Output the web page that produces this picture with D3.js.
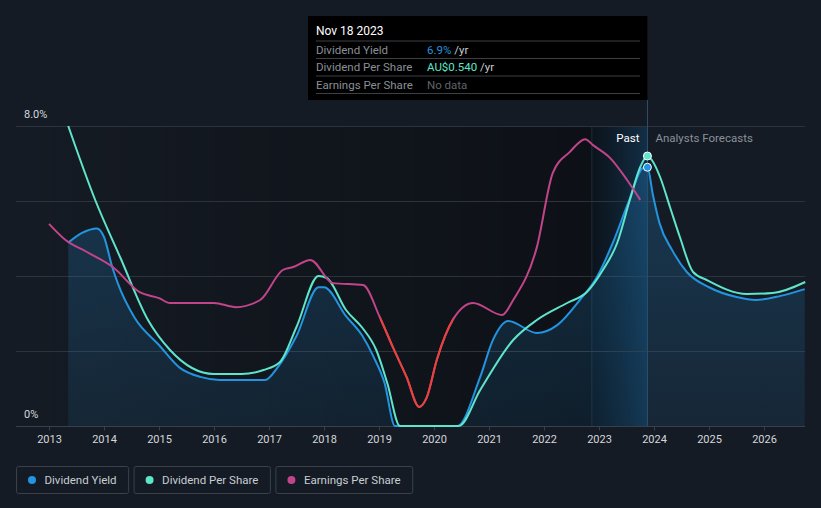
<!DOCTYPE html>
<html>
<head>
<meta charset="utf-8">
<script src="https://cdn.jsdelivr.net/npm/d3@7"></script>
<style>
  html, body { margin: 0; padding: 0; background: #151b24; }
  svg { display: block; font-family: Roboto, "Noto Sans", sans-serif; }
</style>
</head>
<body>
<script>
// dividend yield, % (decimal year -> value)
const yieldDates = [2013.35, 2013.6, 2013.87, 2014.0, 2014.15, 2014.25, 2014.56, 2015.0, 2015.38, 2015.75, 2016.1, 2016.93,
  2017.15, 2017.5, 2017.9, 2018.0, 2018.4, 2018.7, 2018.9, 2019.1, 2019.29, 2020.42, 2020.84, 2021.07, 2021.35,
  2021.87, 2022.24, 2022.65, 2022.96, 2023.25, 2023.53, 2023.8, 2023.88,
  2023.98, 2024.1, 2024.33, 2024.6, 2025.0, 2025.5, 2025.85, 2026.3, 2026.74];
const yieldValues = [4.89, 5.15, 5.27, 5.04, 4.24, 3.81, 2.88, 2.16, 1.55, 1.31, 1.23, 1.23,
  1.55, 2.4, 3.7, 3.7, 2.93, 2.4, 1.85, 1.15, 0, 0, 1.31, 2.29, 2.8,
  2.48, 2.69, 3.36, 3.97, 4.88, 5.95, 6.88, 6.9,
  6.16, 5.41, 4.69, 4.1, 3.7, 3.44, 3.36, 3.47, 3.65];

// dividend per share, AU$
const dpsDates = [2013.35, 2013.84, 2014.3, 2014.8, 2015.2, 2015.6, 2016.0, 2016.5, 2016.9, 2017.2, 2017.5, 2017.9,
  2018.05, 2018.4, 2018.7, 2018.95, 2019.15, 2019.38, 2020.45, 2020.84, 2021.44, 2021.87, 2022.42, 2022.78,
  2023.07, 2023.33, 2023.56, 2023.75, 2023.88,
  2023.96, 2024.11, 2024.29, 2024.47, 2024.71, 2024.96, 2025.69, 2026.16, 2026.75];
const dpsValues = [0.600, 0.452, 0.336, 0.212, 0.152, 0.116, 0.104, 0.104, 0.112, 0.128, 0.198, 0.300,
  0.296, 0.232, 0.196, 0.152, 0.086, 0, 0, 0.072, 0.172, 0.212, 0.246, 0.268,
  0.312, 0.366, 0.452, 0.518, 0.540,
  0.532, 0.498, 0.438, 0.378, 0.308, 0.292, 0.264, 0.266, 0.288];

// earnings per share (relative index, drawn on the % scale)
const epsDates = [2013.0, 2013.3, 2013.69, 2014.16, 2014.65, 2015.0, 2015.2, 2015.56, 2016.0, 2016.4, 2016.84,
  2017.25, 2017.44, 2017.75, 2018.16, 2018.71, 2019.02, 2019.25, 2019.5, 2019.73, 2019.87, 2020.05, 2020.35,
  2020.71, 2021.24, 2021.44, 2021.87, 2022.16, 2022.47, 2022.75, 2022.89, 2023.2, 2023.51, 2023.75];
const epsValues = [5.39, 4.96, 4.64, 4.24, 3.57, 3.41, 3.28, 3.28, 3.28, 3.17, 3.36,
  4.16, 4.24, 4.43, 3.81, 3.76, 2.88, 2.11, 1.31, 0.51, 0.77, 1.76, 2.85,
  3.28, 2.96, 3.36, 4.77, 6.75, 7.31, 7.65, 7.49, 7.15, 6.56, 6.03];
const epsDeclineRange = [2019.02, 2020.35];

const yearTicks = [2013, 2014, 2015, 2016, 2017, 2018, 2019, 2020, 2021, 2022, 2023, 2024, 2025, 2026];
const gridValues = [0, 2, 4, 6, 8];
const yLabels = [[8, '8.0%'], [0, '0%']];
const currentDate = 2023.88;
const pastBandStart = 2022.87;

const seriesNames = ['Dividend Yield', 'Dividend Per Share', 'Earnings Per Share'];
const seriesColors = ['#2394df', '#5ee5cb', '#c2448a'];
const tooltipRows = [['Dividend Yield', '6.9%', '#2394df'], ['Dividend Per Share', 'AU$0.540', '#5ee5cb'], ['Earnings Per Share', 'No data', null]];

const width = 821, height = 508;
const plot = { left: 16, right: 805, top: 126, bottom: 426 };

const svg = d3.select('body').append('svg')
  .attr('width', width)
  .attr('height', height);

const x = d3.scaleLinear().domain([2012.4, 2026.745]).range([plot.left, plot.right]);
const y = d3.scaleLinear().domain([0, 8]).range([plot.bottom, plot.top]);
const yDps = d3.scaleLinear().domain([0, 0.6]).range([plot.bottom, plot.top]);

const defs = svg.append('defs');
const pastShade = defs.append('linearGradient').attr('id', 'pastShade')
  .attr('x1', 0).attr('x2', 1).attr('y1', 0).attr('y2', 0);
pastShade.append('stop').attr('offset', '0%').attr('stop-color', '#000').attr('stop-opacity', 0);
pastShade.append('stop').attr('offset', '100%').attr('stop-color', '#000').attr('stop-opacity', 0.38);

const band = defs.append('linearGradient').attr('id', 'band')
  .attr('x1', 0).attr('x2', 1).attr('y1', 0).attr('y2', 0);
band.append('stop').attr('offset', '0%').attr('stop-color', '#1d5f94').attr('stop-opacity', 0.05);
band.append('stop').attr('offset', '100%').attr('stop-color', '#2478b8').attr('stop-opacity', 0.3);

const areaGrad = defs.append('linearGradient').attr('id', 'areaGrad')
  .attr('x1', 0).attr('x2', 0).attr('y1', 0).attr('y2', 1);
areaGrad.append('stop').attr('offset', '0%').attr('stop-color', '#2394df').attr('stop-opacity', 0.24);
areaGrad.append('stop').attr('offset', '100%').attr('stop-color', '#2394df').attr('stop-opacity', 0.1);

// past background darkening and the highlighted band
svg.append('rect')
  .attr('x', plot.left).attr('y', plot.top)
  .attr('width', x(pastBandStart) - plot.left).attr('height', plot.bottom - plot.top)
  .attr('fill', 'url(#pastShade)');
svg.append('rect')
  .attr('x', x(pastBandStart)).attr('y', plot.top)
  .attr('width', x(currentDate) - x(pastBandStart)).attr('height', plot.bottom - plot.top)
  .attr('fill', '#0b1016');
svg.append('rect')
  .attr('x', x(pastBandStart)).attr('y', plot.top)
  .attr('width', x(currentDate) - x(pastBandStart)).attr('height', plot.bottom - plot.top)
  .attr('fill', 'url(#band)');
svg.append('line')
  .attr('x1', x(pastBandStart)).attr('x2', x(pastBandStart))
  .attr('y1', plot.top).attr('y2', plot.bottom)
  .attr('stroke', '#1c2d3c').attr('stroke-width', 1);

// gridlines
svg.append('g').selectAll('line')
  .data(gridValues)
  .join('line')
  .attr('x1', plot.left).attr('x2', plot.right)
  .attr('y1', d => Math.round(y(d)) + 0.5).attr('y2', d => Math.round(y(d)) + 0.5)
  .attr('stroke', d => d === 0 ? '#3a4049' : '#2d333c')
  .attr('stroke-width', 1);

// x axis
const xAxis = d3.axisBottom(x)
  .tickValues(yearTicks)
  .tickFormat(d3.format('d'))
  .tickSize(4)
  .tickPadding(5);
const gx = svg.append('g')
  .attr('transform', `translate(0,${plot.bottom + 0.5})`)
  .call(xAxis);
gx.select('.domain').remove();
gx.selectAll('.tick line').attr('stroke', '#3a4049');
gx.selectAll('.tick text')
  .attr('fill', '#d4d7dc')
  .style('font-size', '11px')
  .style('font-family', 'Roboto, sans-serif');

// y labels
svg.append('g').selectAll('text')
  .data(yLabels)
  .join('text')
  .attr('x', 24)
  .attr('y', d => y(d[0]) - 8)
  .attr('fill', '#d4d7dc')
  .style('font-size', '11px')
  .text(d => d[1]);

// yield area + lines
const yieldData = yieldDates.map((d, i) => [d, yieldValues[i]]);
const dpsData = dpsDates.map((d, i) => [d, dpsValues[i]]);
const epsData = epsDates.map((d, i) => [d, epsValues[i]]);

svg.append('path')
  .datum(yieldData)
  .attr('fill', 'url(#areaGrad)')
  .attr('d', d3.area().x(d => x(d[0])).y0(plot.bottom).y1(d => y(d[1])).curve(d3.curveMonotoneX));

// vertical marker line for the current date
svg.append('line')
  .attr('x1', Math.round(x(currentDate)) + 0.5).attr('x2', Math.round(x(currentDate)) + 0.5)
  .attr('y1', 100).attr('y2', plot.bottom)
  .attr('stroke', '#2b4d6c').attr('stroke-width', 1);

const lineGen = (scale) => d3.line().x(d => x(d[0])).y(d => scale(d[1])).curve(d3.curveMonotoneX);

svg.append('path')
  .datum(yieldData)
  .attr('fill', 'none')
  .attr('stroke', seriesColors[0])
  .attr('stroke-width', 2)
  .attr('d', lineGen(y));

svg.append('path')
  .datum(dpsData)
  .attr('fill', 'none')
  .attr('stroke', seriesColors[1])
  .attr('stroke-width', 2)
  .attr('d', lineGen(yDps));

defs.append('clipPath').attr('id', 'declineClip')
  .append('rect')
  .attr('x', x(epsDeclineRange[0])).attr('y', 0)
  .attr('width', x(epsDeclineRange[1]) - x(epsDeclineRange[0])).attr('height', height);

svg.append('path')
  .datum(epsData)
  .attr('fill', 'none')
  .attr('stroke', seriesColors[2])
  .attr('stroke-width', 2)
  .attr('d', lineGen(y));
svg.append('path')
  .datum(epsData)
  .attr('fill', 'none')
  .attr('stroke', '#e8433b')
  .attr('stroke-width', 2)
  .attr('clip-path', 'url(#declineClip)')
  .attr('d', lineGen(y));

// current points
svg.append('circle')
  .attr('cx', x(currentDate)).attr('cy', y(yieldValues[yieldDates.indexOf(currentDate)]))
  .attr('r', 4).attr('fill', seriesColors[0]).attr('stroke', '#fff').attr('stroke-width', 1);
svg.append('circle')
  .attr('cx', x(currentDate)).attr('cy', yDps(dpsValues[dpsDates.indexOf(currentDate)]))
  .attr('r', 4).attr('fill', seriesColors[1]).attr('stroke', '#fff').attr('stroke-width', 1);

// Past / forecasts labels
svg.append('text')
  .attr('x', x(currentDate) - 8).attr('y', 142)
  .attr('text-anchor', 'end')
  .attr('fill', '#ffffff')
  .style('font-size', '11.5px')
  .text('Past');
svg.append('text')
  .attr('x', x(currentDate) + 8).attr('y', 142)
  .attr('fill', '#8a9099')
  .style('font-size', '11.5px')
  .text('Analysts Forecasts');

// tooltip
const tip = svg.append('g');
tip.append('rect')
  .attr('x', 308).attr('y', 16)
  .attr('width', x(currentDate) - 308).attr('height', 84)
  .attr('fill', '#000');
tip.append('text')
  .attr('x', 316).attr('y', 35)
  .attr('fill', '#fff')
  .style('font-size', '12px')
  .text('Nov 18 2023');
const rowTop = [41, 58.5, 76];
tip.selectAll('line.sep')
  .data([41, 58.5, 76, 93.5])
  .join('line')
  .attr('x1', 316).attr('x2', 640)
  .attr('y1', d => d).attr('y2', d => d)
  .attr('stroke', '#3c3f44').attr('stroke-width', 1);
const rows = tip.selectAll('g.row')
  .data(tooltipRows)
  .join('g')
  .attr('transform', (d, i) => `translate(0,${rowTop[i] + 12.5})`);
rows.append('text')
  .attr('x', 316)
  .attr('fill', '#8a8f97')
  .style('font-size', '11.5px')
  .text(d => d[0]);
rows.append('text')
  .attr('x', 427)
  .style('font-size', '11.5px')
  .each(function (d) {
    const t = d3.select(this);
    if (d[2]) {
      t.append('tspan').attr('fill', d[2]).text(d[1]);
      t.append('tspan').attr('fill', '#c8ccd2').text(' /yr');
    } else {
      t.append('tspan').attr('fill', '#5f646b').text(d[1]);
    }
  });

// legend
const legend = svg.append('g');
let lx = 16.5;
seriesNames.forEach((name, i) => {
  const g = legend.append('g');
  const txt = g.append('text')
    .attr('x', lx + 28).attr('y', 484)
    .attr('fill', '#c9cdd3')
    .style('font-size', '11.5px')
    .text(name);
  const w = txt.node().getComputedTextLength();
  g.insert('rect', 'text')
    .attr('x', lx).attr('y', 466.5)
    .attr('width', w + 40).attr('height', 27)
    .attr('rx', 2)
    .attr('fill', 'none')
    .attr('stroke', '#3b4049');
  g.append('circle')
    .attr('cx', lx + 15.5).attr('cy', 480)
    .attr('r', 4)
    .attr('fill', seriesColors[i]);
  lx += w + 40 + 5.5;
});
</script>
</body>
</html>
